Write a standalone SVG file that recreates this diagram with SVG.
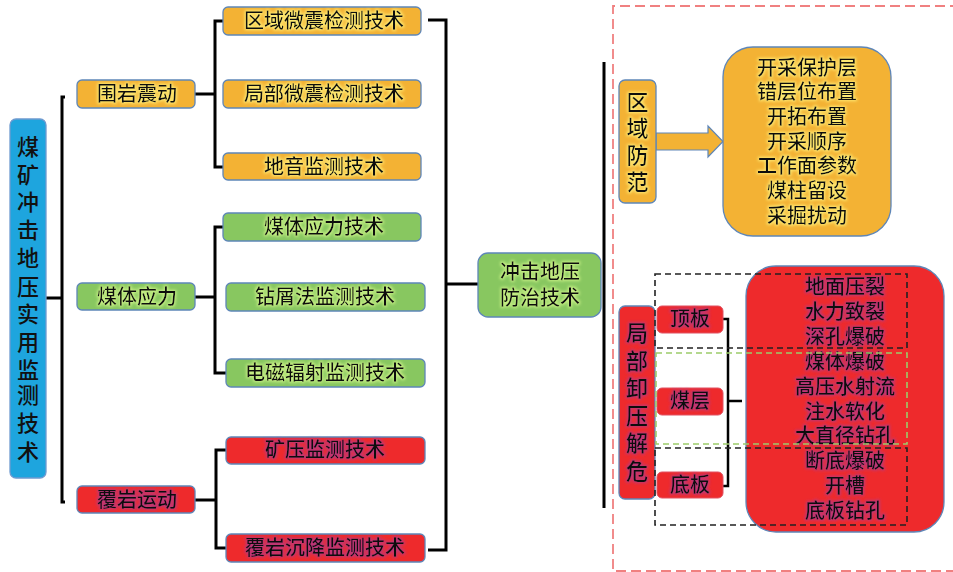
<svg xmlns="http://www.w3.org/2000/svg" width="953" height="572" viewBox="0 0 953 572">
<defs>
<filter id="glowY" x="-10%" y="-30%" width="120%" height="160%">
<feMorphology in="SourceAlpha" operator="dilate" radius="1.2" result="d"/>
<feGaussianBlur in="d" stdDeviation="1.4" result="b"/>
<feFlood flood-color="#fff07a" flood-opacity="0.9"/>
<feComposite in2="b" operator="in" result="g"/>
<feMerge><feMergeNode in="g"/><feMergeNode in="SourceGraphic"/></feMerge>
</filter>
<filter id="glowG" x="-10%" y="-30%" width="120%" height="160%">
<feMorphology in="SourceAlpha" operator="dilate" radius="1.2" result="d"/>
<feGaussianBlur in="d" stdDeviation="1.4" result="b"/>
<feFlood flood-color="#d0f58a" flood-opacity="0.9"/>
<feComposite in2="b" operator="in" result="g"/>
<feMerge><feMergeNode in="g"/><feMergeNode in="SourceGraphic"/></feMerge>
</filter>
<filter id="glowR" x="-10%" y="-30%" width="120%" height="160%">
<feMorphology in="SourceAlpha" operator="dilate" radius="1.2" result="d"/>
<feGaussianBlur in="d" stdDeviation="1.4" result="b"/>
<feFlood flood-color="#b03a8a" flood-opacity="0.8"/>
<feComposite in2="b" operator="in" result="g"/>
<feMerge><feMergeNode in="g"/><feMergeNode in="SourceGraphic"/></feMerge>
</filter>
</defs>
<style>
text{font-family:"Liberation Serif","Noto Sans CJK SC",serif;font-size:20px;font-weight:500;fill:#111;text-anchor:middle;dominant-baseline:central}
.big{font-size:22px}
.o{fill:#F3B234;stroke:#5E86B8;stroke-width:1.3}
.g{fill:#88C760;stroke:#5E86B8;stroke-width:1.3}
.r{fill:#EE2A2C;stroke:#5E86B8;stroke-width:1.3}
.rr{fill:#EE2A2C;stroke:#E05060;stroke-width:1}
.b{fill:#1EA5DE;stroke:#6E9AD0;stroke-width:1.3}
.ty{filter:url(#glowY)}
.tg{filter:url(#glowG)}
.tr{filter:url(#glowR)}
.ln{fill:none;stroke:#000;stroke-width:3}
.dk{fill:none;stroke:#222;stroke-width:1.6;stroke-dasharray:6 4}
.dg{fill:none;stroke:#9CCB6A;stroke-width:1.6;stroke-dasharray:6 4}
.dp{fill:none;stroke:#F08080;stroke-width:1.8;stroke-dasharray:10 5}
</style>

<g id="frame">
<path class="dp" d="M960 6 H613 V571 H960"/>
</g>

<g id="connectors">
<path class="ln" d="M46 298 H62 M65 97 H62 V502 H65"/>
<path class="ln" d="M195 94 H215 M223 21 H215 V167 H223"/>
<path class="ln" d="M195 297 H215 M223 227 H215 V373 H226"/>
<path class="ln" d="M195 500 H216 M226 450 H216 V548 H226"/>
<path class="ln" d="M428 20 H446 V550 H428 M446 284 H478"/>
<path class="ln" d="M604 62 V508"/>
<path class="ln" style="stroke-width:2.5" d="M723 319 H728 V486 H723 M728 401 H742"/>
<path fill="#F3B234" stroke="#5E86B8" stroke-width="1.2" d="M656 133 H708 V126 L723 141.5 L708 157 V150 H656 Z"/>
</g>

<g id="root">
<rect class="b" x="10" y="119" width="36" height="359" rx="6"/>
<text class="big" x="28" y="147">煤</text>
<text class="big" x="28" y="175">矿</text>
<text class="big" x="28" y="202">冲</text>
<text class="big" x="28" y="230">击</text>
<text class="big" x="28" y="258">地</text>
<text class="big" x="28" y="287">压</text>
<text class="big" x="28" y="314">实</text>
<text class="big" x="28" y="342">用</text>
<text class="big" x="28" y="370">监</text>
<text class="big" x="28" y="395">测</text>
<text class="big" x="28" y="423">技</text>
<text class="big" x="28" y="452">术</text>
</g>

<g id="n-weiyan"><rect class="o" x="77" y="80" width="118" height="28" rx="5"/><text class="ty" x="137" y="94">围岩震动</text></g>
<g id="n-meiti"><rect class="g" x="77" y="283" width="118" height="27" rx="5"/><text class="tg" x="137" y="297">煤体应力</text></g>
<g id="n-fuyan"><rect class="r" x="77" y="486" width="118" height="27" rx="5"/><text class="tr" x="137" y="500">覆岩运动</text></g>

<g id="n-quyu"><rect class="o" x="223" y="7" width="198" height="28" rx="5"/><text class="ty" x="324" y="21">区域微震检测技术</text></g>
<g id="n-jubu"><rect class="o" x="223" y="80" width="198" height="28" rx="5"/><text class="ty" x="324" y="94">局部微震检测技术</text></g>
<g id="n-diyin"><rect class="o" x="223" y="153" width="198" height="27" rx="5"/><text class="ty" x="324" y="167">地音监测技术</text></g>
<g id="n-yingli"><rect class="g" x="223" y="213" width="198" height="28" rx="5"/><text class="tg" x="324" y="227">煤体应力技术</text></g>
<g id="n-zuanxie"><rect class="g" x="226" y="283" width="199" height="28" rx="5"/><text class="tg" x="325" y="297">钻屑法监测技术</text></g>
<g id="n-dianci"><rect class="g" x="226" y="359" width="199" height="28" rx="5"/><text class="tg" x="325" y="373">电磁辐射监测技术</text></g>
<g id="n-kuangya"><rect class="r" x="226" y="437" width="199" height="27" rx="5"/><text class="tr" x="325" y="450">矿压监测技术</text></g>
<g id="n-chenjiang"><rect class="r" x="226" y="534" width="199" height="28" rx="5"/><text class="tr" x="325" y="548">覆岩沉降监测技术</text></g>

<g id="n-fangzhi"><rect class="g" x="478" y="253" width="123" height="64" rx="10"/><text class="tg" x="540" y="272">冲击地压</text><text class="tg" x="540" y="298">防治技术</text></g>

<g id="n-quyufangfan"><rect class="o" x="619" y="80" width="37" height="123" rx="6"/>
<text class="big ty" x="637.5" y="102">区</text><text class="big ty" x="637.5" y="128">域</text><text class="big ty" x="637.5" y="155">防</text><text class="big ty" x="637.5" y="182">范</text></g>

<g id="n-quyulist"><rect class="o" x="723" y="47" width="168" height="189" rx="30"/>
<text class="ty" x="807" y="68">开采保护层</text>
<text class="ty" x="807" y="92">错层位布置</text>
<text class="ty" x="807" y="117">开拓布置</text>
<text class="ty" x="807" y="142">开采顺序</text>
<text class="ty" x="807" y="166">工作面参数</text>
<text class="ty" x="807" y="191">煤柱留设</text>
<text class="ty" x="807" y="216">采掘扰动</text>
</g>

<g id="n-jubuxieya"><rect class="r" x="619" y="306" width="36" height="193" rx="6"/>
<text class="big tr" x="637" y="333">局</text><text class="big tr" x="637" y="361">部</text><text class="big tr" x="637" y="388">卸</text><text class="big tr" x="637" y="416">压</text><text class="big tr" x="637" y="443">解</text><text class="big tr" x="637" y="471">危</text></g>

<g id="n-dingban"><rect class="rr" x="657" y="306" width="66" height="27" rx="5"/><text class="tr" x="690" y="319">顶板</text></g>
<g id="n-meiceng"><rect class="rr" x="657" y="388" width="66" height="27" rx="5"/><text class="tr" x="690" y="401">煤层</text></g>
<g id="n-diban"><rect class="rr" x="657" y="472" width="66" height="26" rx="5"/><text class="tr" x="690" y="485">底板</text></g>

<g id="n-jubulist"><rect class="r" x="746" y="266" width="198" height="266" rx="30"/>
<text class="tr" x="845" y="287">地面压裂</text>
<text class="tr" x="845" y="312">水力致裂</text>
<text class="tr" x="845" y="337">深孔爆破</text>
<text class="tr" x="845" y="362">煤体爆破</text>
<text class="tr" x="845" y="387">高压水射流</text>
<text class="tr" x="845" y="412">注水软化</text>
<text class="tr" x="845" y="436">大直径钻孔</text>
<text class="tr" x="845" y="461">断底爆破</text>
<text class="tr" x="845" y="486">开槽</text>
<text class="tr" x="845" y="511">底板钻孔</text>
</g>

<g id="groups">
<rect class="dk" x="655" y="274" width="252" height="74"/>
<rect class="dg" x="656" y="353" width="251" height="91"/>
<rect class="dk" x="655" y="448" width="252" height="77"/>
</g>
</svg>
